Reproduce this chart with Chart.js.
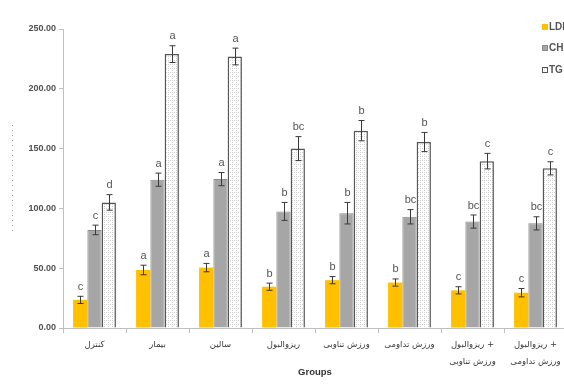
<!DOCTYPE html>
<html>
<head>
<meta charset="utf-8">
<script src="https://cdn.jsdelivr.net/npm/chart.js@4.4.1/dist/chart.umd.min.js"></script>
<style>
  html, body { margin: 0; padding: 0; background: #fff; overflow: hidden; }
  #wrap { position: relative; width: 600px; height: 388px; }
</style>
</head>
<body>
<div id="wrap"><canvas id="c" width="600" height="388"></canvas></div>
<script>
// Study groups
const groups = [
  'کنترل',
  'بیمار',
  'سالین',
  'ریزوالبول',
  'ورزش تناوبی',
  'ورزش تداومی',
  ['ریزوالبول +', 'ورزش تناوبی'],
  ['ریزوالبول +', 'ورزش تداومی']
];

// Mean values per group
const ldl  = [23.5, 48.5, 50.5, 34.5, 40.0, 38.0, 31.5, 29.5];
const chol = [82.0, 124.0, 124.5, 97.5, 96.0, 93.0, 89.0, 87.5];
const tg   = [105.0, 229.0, 227.0, 150.0, 165.0, 155.5, 139.5, 133.5];

// Error bar half-widths
const ldlErr  = [3.0, 4.0, 3.5, 3.0, 3.0, 3.0, 3.0, 3.5];
const cholErr = [4.0, 5.5, 5.5, 7.5, 9.0, 6.0, 5.5, 5.5];
const tgErr   = [6.5, 7.0, 7.0, 10.0, 8.5, 8.0, 6.5, 5.5];

// Significance letters
const ldlSig  = ['c', 'a', 'a', 'b', 'b', 'b', 'c', 'c'];
const cholSig = ['c', 'a', 'a', 'b', 'b', 'bc', 'bc', 'bc'];
const tgSig   = ['d', 'a', 'a', 'bc', 'b', 'b', 'c', 'c'];

const seriesNames = ['LDL', 'CHOL', 'TG'];
const yTicks = [0, 50, 100, 150, 200, 250];

// light dotted fill for the TG bars
function dotPattern() {
  const p = document.createElement('canvas');
  p.width = 4; p.height = 4;
  const g = p.getContext('2d');
  g.fillStyle = '#ffffff';
  g.fillRect(0, 0, 4, 4);
  g.fillStyle = '#cfcfcf';
  g.fillRect(0, 0, 1, 1);
  g.fillRect(2, 0, 1, 1);
  g.fillRect(0, 2, 1, 1);
  return g.createPattern(p, 'repeat');
}

const ctx = document.getElementById('c').getContext('2d');

const errorBars = {
  id: 'errorBars',
  afterDatasetsDraw(chart) {
    const y = chart.scales.y;
    const c = chart.ctx;
    c.save();
    chart.data.datasets.forEach((ds, di) => {
      const meta = chart.getDatasetMeta(di);
      meta.data.forEach((bar, i) => {
        const v = ds.data[i], e = ds.err[i];
        const top = y.getPixelForValue(v + e);
        const bot = y.getPixelForValue(v - e);
        const x = Math.round(bar.x) + 0.5;
        c.strokeStyle = '#3a3a3a';
        c.lineWidth = 1;
        c.beginPath();
        c.moveTo(x, top); c.lineTo(x, bot);
        c.moveTo(x - 3, top); c.lineTo(x + 3, top);
        c.moveTo(x - 3, bot); c.lineTo(x + 3, bot);
        c.stroke();
        c.fillStyle = '#555555';
        c.font = '11px "Liberation Sans", Arial, sans-serif';
        c.textAlign = 'center';
        c.textBaseline = 'bottom';
        c.fillText(ds.sig[i], x, top - 4);
      });
    });
    c.restore();
  }
};

const sideDecor = {
  id: 'sideDecor',
  afterDraw(chart) {
    const c = chart.ctx;
    c.save();
    // left edge dashes
    c.strokeStyle = '#9a9a9a';
    c.lineWidth = 1;
    c.setLineDash([1, 4]);
    c.beginPath();
    c.moveTo(12.5, 125); c.lineTo(12.5, 233);
    c.stroke();
    c.setLineDash([]);
    // legend
    const items = chart.data.datasets;
    const ys = [27, 48, 70];
    items.forEach((ds, i) => {
      c.fillStyle = ds.backgroundColor;
      c.fillRect(542, ys[i] - 3, 6, 6);
      if (ds.borderWidth) {
        c.strokeStyle = ds.borderColor;
        c.lineWidth = 1;
        c.strokeRect(542.5, ys[i] - 2.5, 5, 5);
      }
      c.fillStyle = '#555555';
      c.font = 'bold 10px "Liberation Sans", Arial, sans-serif';
      c.textAlign = 'left';
      c.textBaseline = 'middle';
      c.fillText(ds.label, 549, ys[i]);
    });
    c.restore();
  }
};

new Chart(ctx, {
  type: 'bar',
  data: {
    labels: groups,
    datasets: [
      { label: seriesNames[0], data: ldl, err: ldlErr, sig: ldlSig,
        backgroundColor: '#FFC000', borderWidth: 0 },
      { label: seriesNames[1], data: chol, err: cholErr, sig: cholSig,
        backgroundColor: '#A6A6A6', borderColor: '#8a8a8a', borderWidth: 1 },
      { label: seriesNames[2], data: tg, err: tgErr, sig: tgSig,
        backgroundColor: dotPattern(), borderColor: '#555555', borderWidth: 1.5 }
    ]
  },
  options: {
    responsive: false,
    animation: false,
    layout: { padding: { left: 0, right: 33, top: 29, bottom: 0 } },
    datasets: { bar: { barPercentage: 1.0, categoryPercentage: 0.68 } },
    plugins: { legend: { display: false }, tooltip: { enabled: false } },
    scales: {
      x: {
        offset: true,
        grid: { offset: true, drawOnChartArea: false, tickLength: 5, color: '#bfbfbf' },
        border: { color: '#bfbfbf' },
        ticks: {
          autoSkip: false, maxRotation: 0, minRotation: 0, padding: 3,
          color: '#3a3a3a',
          font: { family: '"DejaVu Sans", sans-serif', size: 8.5, lineHeight: 2.0 }
        },
        title: {
          display: true, text: 'Groups', color: '#333333',
          font: { family: '"Liberation Sans", Arial, sans-serif', size: 9.5, weight: 'bold' },
          padding: { top: 0, bottom: 10 }
        },
        afterFit(s) { s.height = 60; }
      },
      y: {
        min: 0, max: 250,
        afterBuildTicks(s) { s.ticks = yTicks.map(v => ({ value: v })); },
        grid: { drawOnChartArea: false, tickLength: 4, color: '#bfbfbf' },
        border: { color: '#bfbfbf' },
        ticks: {
          padding: 3, color: '#505050',
          font: { family: '"Liberation Sans", Arial, sans-serif', size: 9, weight: 'bold' },
          callback: v => Number(v).toFixed(2)
        },
        afterFit(s) { s.width = 63; }
      }
    }
  },
  plugins: [errorBars, sideDecor]
});
</script>
</body>
</html>
